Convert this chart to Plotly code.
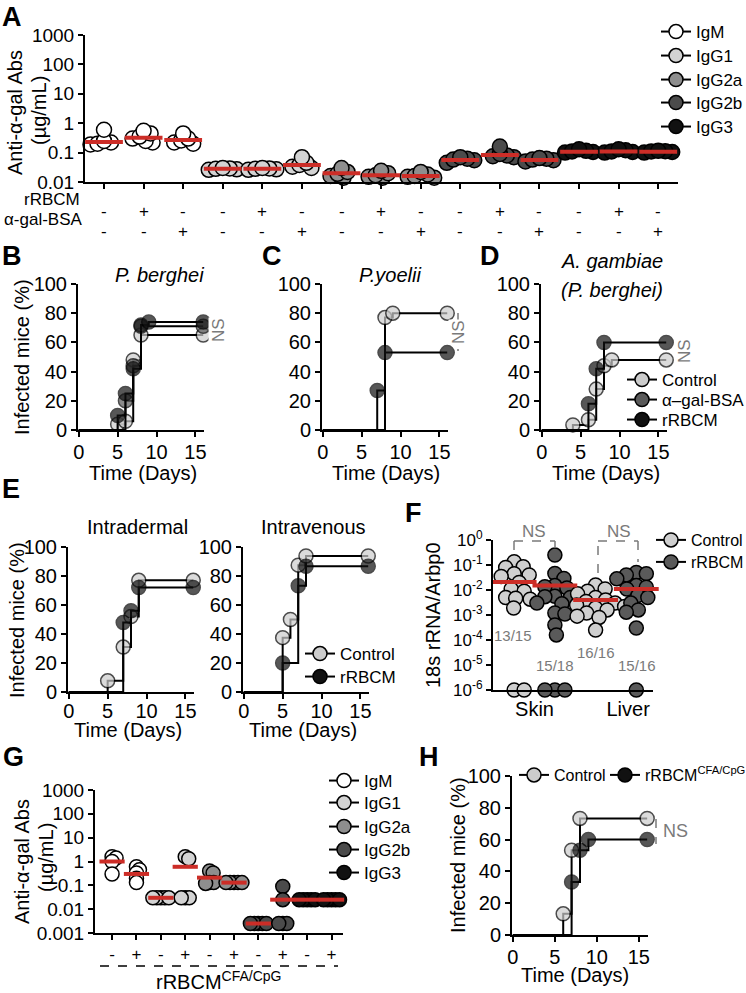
import numpy as np
import plotly.graph_objects as go

W, H = 746, 993
FONT = "Liberation Sans, Arial, sans-serif"
RED = "#cc2d27"
NSG = "#7a7a7a"

# ---------------- DATA ----------------
isotypes = ["IgM", "IgG1", "IgG2a", "IgG2b", "IgG3"]
iso_colors = ["#ffffff", "#d3d3d3", "#8e8e8e", "#4b4b4b", "#111111"]

# Panel A: anti-alpha-gal antibodies (ug/mL), 15 groups (isotype x treatment)
a_rrbcm = ["-", "+", "-"] * 5
a_bsa = ["-", "-", "+"] * 5
a_values = [
    [0.19, 0.2, 0.22, 0.25, 0.6],
    [0.22, 0.25, 0.3, 0.35, 0.45, 0.55],
    [0.2, 0.22, 0.26, 0.3, 0.45],
    [0.026, 0.027, 0.028, 0.029, 0.03],
    [0.026, 0.027, 0.028, 0.029, 0.03],
    [0.03, 0.033, 0.038, 0.045, 0.07],
    [0.014, 0.016, 0.019, 0.022, 0.03],
    [0.014, 0.015, 0.017, 0.02, 0.024],
    [0.014, 0.015, 0.016, 0.018, 0.022],
    [0.045, 0.055, 0.058, 0.062, 0.07],
    [0.07, 0.075, 0.08, 0.09, 0.16],
    [0.05, 0.055, 0.058, 0.062, 0.065],
    [0.1, 0.105, 0.11, 0.115, 0.13],
    [0.1, 0.105, 0.11, 0.12, 0.13],
    [0.1, 0.105, 0.11, 0.112, 0.115],
]
a_means = [0.23, 0.32, 0.27, 0.028, 0.028, 0.038, 0.02, 0.017, 0.016,
           0.056, 0.083, 0.056, 0.107, 0.11, 0.107]

# Survival panels (day, % infected)
b_ctrl_days = [0, 5, 6, 7, 8, 16];        b_ctrl = [0, 4, 6, 48, 65, 65]
b_bsa_days = [0, 6, 7, 8, 16];            b_bsa = [0, 20, 44, 71, 71]
b_rrbcm_days = [0, 5, 6, 7, 8, 9, 16];    b_rrbcm = [0, 10, 25, 42, 72, 74, 74]

c_ctrl_days = [0, 8, 9, 16];              c_ctrl = [0, 77, 80, 80]
c_rrbcm_days = [0, 7, 8, 16];             c_rrbcm = [0, 27, 53, 53]

d_ctrl_days = [0, 4, 6, 7, 8, 9, 16];     d_ctrl = [0, 3.5, 7, 28, 44, 48, 48]
d_rrbcm_days = [0, 6, 7, 8, 16];          d_rrbcm = [0, 18, 42, 60, 60]

eid_ctrl_days = [0, 5, 7, 8, 9, 16];      eid_ctrl = [0, 7.7, 31, 52, 77, 77]
eid_rrbcm_days = [0, 7, 8, 9, 16];        eid_rrbcm = [0, 48, 56, 72, 72]

eiv_ctrl_days = [0, 5, 6, 7, 8, 16];      eiv_ctrl = [0, 37.5, 50, 87.5, 93.8, 93.8]
eiv_rrbcm_days = [0, 5, 7, 8, 16];        eiv_rrbcm = [0, 20, 73.3, 86.7, 86.7]

h_ctrl_days = [0, 6, 7, 8, 16];           h_ctrl = [0, 13.3, 53.3, 73.3, 73.3]
h_rrbcm_days = [0, 7, 8, 9, 16];          h_rrbcm = [0, 33.3, 53.3, 60, 60]

# Panel F: 18s rRNA / Arbp0 (undetected plotted at 1e-6)
f_groups = ["Skin Control", "Skin rRBCM", "Liver Control", "Liver rRBCM"]
f_skin_ctrl = [0.135, 0.085, 0.08, 0.045, 0.04, 0.035, 0.02, 0.011, 0.009,
               0.005, 0.0047, 0.0043, 0.0019, 1e-6, 1e-6]
f_skin_rrbcm = [0.25, 0.046, 0.029, 0.015, 0.0136, 0.012, 0.0056, 0.0054, 0.005,
                0.003, 0.0028, 0.0012, 0.0011, 0.0004, 0.00016, 1e-6, 1e-6, 1e-6]
f_liver_ctrl = [0.016, 0.011, 0.009, 0.007, 0.005, 0.004, 0.0035, 0.003, 0.0025,
                0.0022, 0.0019, 0.0016, 0.0012, 0.0009, 0.0008, 0.00025]
f_liver_rrbcm = [0.05, 0.045, 0.04, 0.03, 0.028, 0.015, 0.013, 0.011, 0.009,
                 0.006, 0.005, 0.003, 0.0016, 0.0013, 0.0003, 1e-6]
f_means = [0.021, 0.015, 0.004, 0.011]
f_fracs = ["13/15", "15/18", "16/16", "15/16"]
f_colors = ["#cfcfcf", "#5a5a5a", "#cfcfcf", "#5a5a5a"]

# Panel G
g_signs = ["-", "+"] * 5
g_values = [
    [1.6, 1.4, 1.0, 0.3],
    [0.6, 0.45, 0.33, 0.2, 0.13],
    [0.03, 0.03, 0.03, 0.03, 0.03],
    [1.6, 1.3, 0.03, 0.03, 0.03],
    [0.4, 0.33, 0.13, 0.13, 0.12],
    [0.13, 0.13, 0.13, 0.13, 0.13],
    [0.0025, 0.0025, 0.0025, 0.0025, 0.0025],
    [0.09, 0.025, 0.0025, 0.0025, 0.0025],
    [0.025, 0.025, 0.025, 0.025, 0.025],
    [0.025, 0.025, 0.025, 0.025, 0.025],
]
g_means = [1.0, 0.3, 0.03, 0.6, 0.21, 0.13, 0.0025, 0.025, 0.025, 0.025]

C_CTRL, C_BSA, C_RRBCM = "#cccccc", "#5a5a5a", "#111111"

# ---------------- HELPERS ----------------
fig = go.Figure()
layout = {}
annotations = []
shapes = []


def X(px):
    return px / W


def Y(py):
    return 1 - py / H


def axis_style(size):
    return dict(showline=True, linecolor="black", linewidth=2, ticks="outside",
                ticklen=5, tickwidth=2, tickcolor="black", showgrid=False,
                zeroline=False, fixedrange=True,
                tickfont=dict(size=size, color="black", family=FONT))


def add_axes(n, xpx, ypx, xrange, yrange, ylog=False, fs=20):
    sx = "" if n == 1 else str(n)
    xa = axis_style(fs)
    xa.update(domain=[X(xpx[0]), X(xpx[1])], range=xrange, anchor="y" + sx)
    ya = axis_style(fs)
    ya.update(domain=[Y(ypx[1]), Y(ypx[0])], range=yrange, anchor="x" + sx)
    if ylog:
        ya["type"] = "log"
    layout["xaxis" + sx] = xa
    layout["yaxis" + sx] = ya
    return "x" + sx, "y" + sx


def ann(text, px, py, size=20, angle=0, xanchor="center", color="black", bold=False, bg=None):
    a = dict(text=("<b>%s</b>" % text) if bold else text, x=X(px), y=Y(py), xref="paper", yref="paper",
             showarrow=False, xanchor=xanchor, yanchor="middle", textangle=angle,
             font=dict(size=size, color=color, family=FONT))
    if bg:
        a["bgcolor"] = bg
        a["borderpad"] = 0
    annotations.append(a)


def dline(x0, y0, x1, y1, color=NSG, dash="dash", width=1.5):
    shapes.append(dict(type="line", xref="paper", yref="paper", x0=X(x0), y0=Y(y0), x1=X(x1), y1=Y(y1),
                       line=dict(color=color, width=width, dash=dash)))


def swarm_offsets(values, px_per_decade, mind, step=0.5):
    yp = np.log10(np.asarray(values, float)) * px_per_decade
    order = np.argsort(-yp, kind="stable")
    placed = []
    offs = np.zeros(len(yp))
    for i in order:
        k = 0
        while True:
            cands = [0.0] if k == 0 else [k * step, -k * step]
            found = None
            for c in cands:
                if all((c - ox) ** 2 + (yp[i] - oy) ** 2 >= mind ** 2 - 1e-9 for ox, oy in placed):
                    found = c
                    break
            if found is not None:
                break
            k += 1
        offs[i] = found
        placed.append((found, yp[i]))
    return offs


legend_n = [0]


def legend_item(name, color, px, py, size=17):
    legend_n[0] += 1
    k = legend_n[0]
    lname = "legend" if k == 1 else "legend%d" % k
    fig.add_trace(go.Scatter(x=[None], y=[None], mode="lines+markers", name=name, legend=lname,
                             showlegend=True, line=dict(color="black", width=2),
                             marker=dict(size=14, color=color, line=dict(color="black", width=1.5)),
                             xaxis="x", yaxis="y"))
    layout[lname] = dict(x=X(px - 18), y=Y(py), xanchor="left", yanchor="middle",
                         font=dict(size=size, family=FONT, color="black"),
                         bgcolor="rgba(0,0,0,0)", borderwidth=0, itemclick=False,
                         itemdoubleclick=False)


def dot_groups(xa, ya, groups, colors, means, pxu, pxdec, mind, msize=14, mean_w=26):
    for i, vals in enumerate(groups):
        offs = swarm_offsets(vals, pxdec, mind) / pxu
        fig.add_trace(go.Scatter(x=i + offs, y=vals, mode="markers", xaxis=xa, yaxis=ya,
                                 showlegend=False, cliponaxis=False,
                                 marker=dict(size=msize, color=colors[i], line=dict(color="black", width=1.5))))
    fig.add_trace(go.Scatter(x=list(range(len(means))), y=means, mode="markers", xaxis=xa, yaxis=ya,
                             showlegend=False, cliponaxis=False,
                             marker=dict(symbol="line-ew", size=mean_w, line=dict(color=RED, width=4))))


def km(xa, ya, days, vals, color):
    sizes = [0 if d == 0 else 14 for d in days]
    fig.add_trace(go.Scatter(x=days, y=vals, mode="lines+markers", xaxis=xa, yaxis=ya, showlegend=False,
                             cliponaxis=False, line=dict(color="black", width=2, shape="hv"),
                             marker=dict(size=sizes, color=color, line=dict(color="black", width=1.5))))


def surv_axes(n, xpx, ypx, standoff=0):
    xa, ya = add_axes(n, xpx, ypx, [-0.1, 16.1], [0, 100], fs=20)
    layout["xaxis" + ("" if n == 1 else str(n))].update(tickvals=[0, 5, 10, 15], ticklabelstandoff=standoff)
    layout["yaxis" + ("" if n == 1 else str(n))].update(tickvals=[0, 20, 40, 60, 80, 100])
    return xa, ya


# ---------------- PANEL A ----------------
xa, ya = add_axes(1, (85, 678), (35, 182), [-0.48, 14.5], [-2, 3], ylog=True, fs=19)
layout["xaxis"].update(tickvals=list(range(15)), showticklabels=False)
layout["yaxis"].update(tickvals=[0.01, 0.1, 1, 10, 100, 1000], ticktext=["0.01", "0.1", "1", "10", "100", "1000"])
a_cols = [iso_colors[i // 3] for i in range(15)]
dot_groups(xa, ya, a_values, a_cols, a_means, 39.6, 29.4, 7, msize=15, mean_w=27)
for i in range(15):
    annotations.append(dict(text=a_rrbcm[i], x=i, y=Y(200), xref="x", yref="paper", showarrow=False,
                            font=dict(size=17, family=FONT, color="black")))
    annotations.append(dict(text=a_bsa[i], x=i, y=Y(220), xref="x", yref="paper", showarrow=False,
                            font=dict(size=17, family=FONT, color="black")))
ann("rRBCM", 82, 200, size=17, xanchor="right")
ann("α-gal-BSA", 85, 220, size=17, xanchor="right")
ann("Anti-α-gal Abs", 15, 113, angle=-90)
ann("(µg/mL)", 39, 111, angle=-90)
for k, iso in enumerate(isotypes):
    legend_item(iso, iso_colors[k], 674, [32, 56, 80, 103, 127][k])

# ---------------- PANEL B ----------------
xb, yb = surv_axes(2, (78, 204), (284, 430), standoff=-2)
km(xb, yb, b_ctrl_days, b_ctrl, C_CTRL)
km(xb, yb, b_bsa_days, b_bsa, C_BSA)
km(xb, yb, b_rrbcm_days, b_rrbcm, C_RRBCM)
ann("<i>P. berghei</i>", 159, 275)
ann("Infected mice (%)", 22, 357, angle=-90)
ann("Time (Days)", 143, 473)
dline(217, 321, 217, 339)
ann("NS", 218, 330, size=17, angle=-90, color=NSG, bg="white")

# ---------------- PANEL C ----------------
xc, yc = surv_axes(3, (322, 448), (284, 430), standoff=-2)
km(xc, yc, c_ctrl_days, c_ctrl, C_CTRL)
km(xc, yc, c_rrbcm_days, c_rrbcm, C_RRBCM)
ann("<i>P.yoelii</i>", 390, 275)
ann("Time (Days)", 386, 473)
dline(458, 313, 458, 351)
ann("NS", 459, 332, size=17, angle=-90, color=NSG, bg="white")

# ---------------- PANEL D ----------------
xd, yd = surv_axes(4, (541, 667), (284, 430), standoff=-2)
km(xd, yd, d_ctrl_days, d_ctrl, C_CTRL)
km(xd, yd, d_rrbcm_days, d_rrbcm, C_RRBCM)
ann("<i>A. gambiae</i>", 612, 261)
ann("<i>(P. berghei)</i>", 612, 290)
ann("Time (Days)", 606, 473)
dline(683, 341, 683, 360)
ann("NS", 684, 351, size=17, angle=-90, color=NSG, bg="white")
legend_item("Control", C_CTRL, 640, 380)
legend_item("α–gal-BSA", C_BSA, 640, 400)
legend_item("rRBCM", C_RRBCM, 640, 420)

# ---------------- PANEL E ----------------
xe1, ye1 = surv_axes(5, (68, 194), (547, 692), standoff=-5)
km(xe1, ye1, eid_ctrl_days, eid_ctrl, C_CTRL)
km(xe1, ye1, eid_rrbcm_days, eid_rrbcm, C_RRBCM)
xe2, ye2 = surv_axes(6, (243, 369), (547, 692), standoff=-5)
km(xe2, ye2, eiv_ctrl_days, eiv_ctrl, C_CTRL)
km(xe2, ye2, eiv_rrbcm_days, eiv_rrbcm, C_RRBCM)
ann("Intradermal", 137, 527)
ann("Intravenous", 313, 527)
ann("Infected mice (%)", 17, 620, angle=-90)
ann("Time (Days)", 128, 730)
ann("Time (Days)", 303, 730)
legend_item("Control", C_CTRL, 318, 654)
legend_item("rRBCM", C_RRBCM, 318, 677)

# ---------------- PANEL F ----------------
xf, yf = add_axes(7, (493, 653), (540, 690), [-0.52, 3.41], [-6, 0], ylog=True, fs=17)
layout["xaxis7"].update(tickvals=[0.5, 2.8], ticktext=["Skin", "Liver"], ticks="",
                        tickfont=dict(size=20, family=FONT, color="black"))
layout["yaxis7"].update(tickvals=[1e-6, 1e-5, 1e-4, 1e-3, 1e-2, 1e-1, 1],
                        ticktext=["10<sup>-6</sup>", "10<sup>-5</sup>", "10<sup>-4</sup>", "10<sup>-3</sup>",
                                  "10<sup>-2</sup>", "10<sup>-1</sup>", "10<sup>0</sup>"])
dot_groups(xf, yf, [f_skin_ctrl, f_skin_rrbcm, f_liver_ctrl, f_liver_rrbcm], f_colors, f_means,
           40.7, 25.0, 10, msize=14, mean_w=32)
ann("18s rRNA/Arbp0", 433, 615, angle=-90)
for txt, (px, py) in zip(f_fracs, [(513, 635), (555, 665), (596, 652), (637, 665)]):
    ann(txt, px, py, size=15, color=NSG)
dline(514, 550, 514, 541); dline(514, 541, 555, 541); dline(555, 541, 555, 548)
dline(598, 573, 598, 541); dline(598, 541, 638, 541); dline(638, 541, 638, 562)
ann("NS", 534, 531, size=17, color=NSG)
ann("NS", 619, 531, size=17, color=NSG)
legend_item("Control", "#cfcfcf", 669, 540, size=16)
legend_item("rRBCM", "#5a5a5a", 669, 562, size=16)

# ---------------- PANEL G ----------------
xg, yg = add_axes(8, (95, 343), (790, 933), [-0.7, 9.47], [-3, 3], ylog=True, fs=19)
layout["xaxis8"].update(tickvals=list(range(10)), ticktext=g_signs, tickfont=dict(size=17, family=FONT, color="black"))
layout["yaxis8"].update(tickvals=[0.001, 0.01, 0.1, 1, 10, 100, 1000],
                        ticktext=["0.001", "0.01", "0.1", "1", "10", "100", "1000"])
g_cols = [iso_colors[i // 2] for i in range(10)]
dot_groups(xg, yg, g_values, g_cols, g_means, 24.4, 23.8, 4, msize=14, mean_w=18)
ann("Anti-α-gal Abs", 22, 862, angle=-90)
ann("(µg/mL)", 46, 858, angle=-90)
dline(100, 966, 338, 966, color="black", dash="dash", width=1.5)
ann("rRBCM<sup>CFA/CpG</sup>", 219, 980)
for k, iso in enumerate(isotypes):
    legend_item(iso, iso_colors[k], 342, [781, 803, 827, 850, 873][k])

# ---------------- PANEL H ----------------
xh, yh = surv_axes(9, (512, 648), (776, 935), standoff=-2)
km(xh, yh, h_ctrl_days, h_ctrl, C_CTRL)
km(xh, yh, h_rrbcm_days, h_rrbcm, C_RRBCM)
ann("Infected mice (%)", 458, 855, angle=-90)
ann("Time (Days)", 575, 975)
dline(656, 819, 656, 844)
ann("NS", 675, 831, size=18, color=NSG)
legend_item("Control", C_CTRL, 532, 775, size=16)
legend_item("rRBCM<sup>CFA/CpG</sup>", C_RRBCM, 623, 775, size=16)

# ---------------- LETTERS ----------------
for L, px, py in [("A", 12, 17), ("B", 12, 256), ("C", 272, 256), ("D", 490, 256),
                  ("E", 11, 489), ("F", 413, 513), ("G", 13, 757), ("H", 429, 757)]:
    ann(L, px, py, size=27, bold=True)

layout.update(width=W, height=H, margin=dict(l=0, r=0, t=0, b=0, autoexpand=False), paper_bgcolor="white",
              plot_bgcolor="rgba(0,0,0,0)", annotations=annotations, shapes=shapes,
              font=dict(family=FONT, color="black"))
fig.update_layout(**layout)
fig.write_html("out.html", config={"displayModeBar": False, "staticPlot": False},
               post_script="document.body.style.margin='0';document.body.style.padding='0';"
                           "document.body.style.overflow='hidden';")
